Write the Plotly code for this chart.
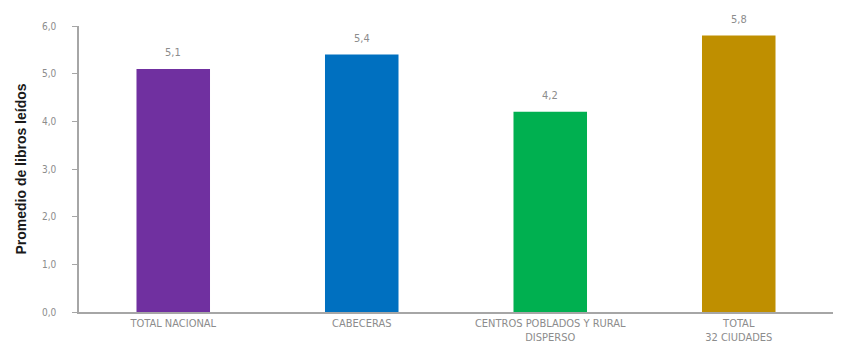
import plotly.graph_objects as go

categories = ["TOTAL NACIONAL", "CABECERAS", "CENTROS POBLADOS Y RURAL<br>DISPERSO", "TOTAL<br>32 CIUDADES"]
values = [5.1, 5.4, 4.2, 5.8]
colors = ["#7030A0", "#0070C0", "#00B050", "#BF8F00"]
tick_vals = [0, 1, 2, 3, 4, 5, 6]
tick_text = ["0,0", "1,0", "2,0", "3,0", "4,0", "5,0", "6,0"]
value_labels = [f"{v:.1f}".replace(".", ",") for v in values]

fig = go.Figure(go.Bar(
    x=categories, y=values, marker=dict(color=colors, line=dict(width=0)),
))
for c, v, t in zip(categories, values, value_labels):
    fig.add_annotation(x=c, y=v, text=t, showarrow=False, yanchor="bottom", yshift=8,
                       font=dict(family="DejaVu Sans Condensed", size=11, color="#8c8c8c"))
fig.update_layout(
    width=841, height=360,
    margin=dict(l=70, r=16, t=12, b=56),
    paper_bgcolor="white", plot_bgcolor="white",
    bargap=0.61, showlegend=False,
    font=dict(family="DejaVu Sans Condensed", color="#8c8c8c"),
)
fig.update_xaxes(
    showline=True, linecolor="#a6a6a6", linewidth=1.5, ticks="",
    tickfont=dict(family="DejaVu Sans Condensed", size=11, color="#8c8c8c"),
    showgrid=False,
)
fig.update_yaxes(
    range=[0, 6], tickvals=tick_vals, ticktext=tick_text,
    showline=True, linecolor="#a6a6a6", linewidth=1.5,
    ticks="outside", ticklen=5, tickcolor="#a6a6a6",
    ticklabelstandoff=14,
    showgrid=False, zeroline=False,
    tickfont=dict(family="DejaVu Sans Condensed", size=10, color="#8c8c8c"),
    title=dict(text="<b>Promedio de libros leídos</b>", standoff=12,
               font=dict(family="Liberation Sans", size=14, color="#1a1a1a")),
)
fig.write_html("out.html")
